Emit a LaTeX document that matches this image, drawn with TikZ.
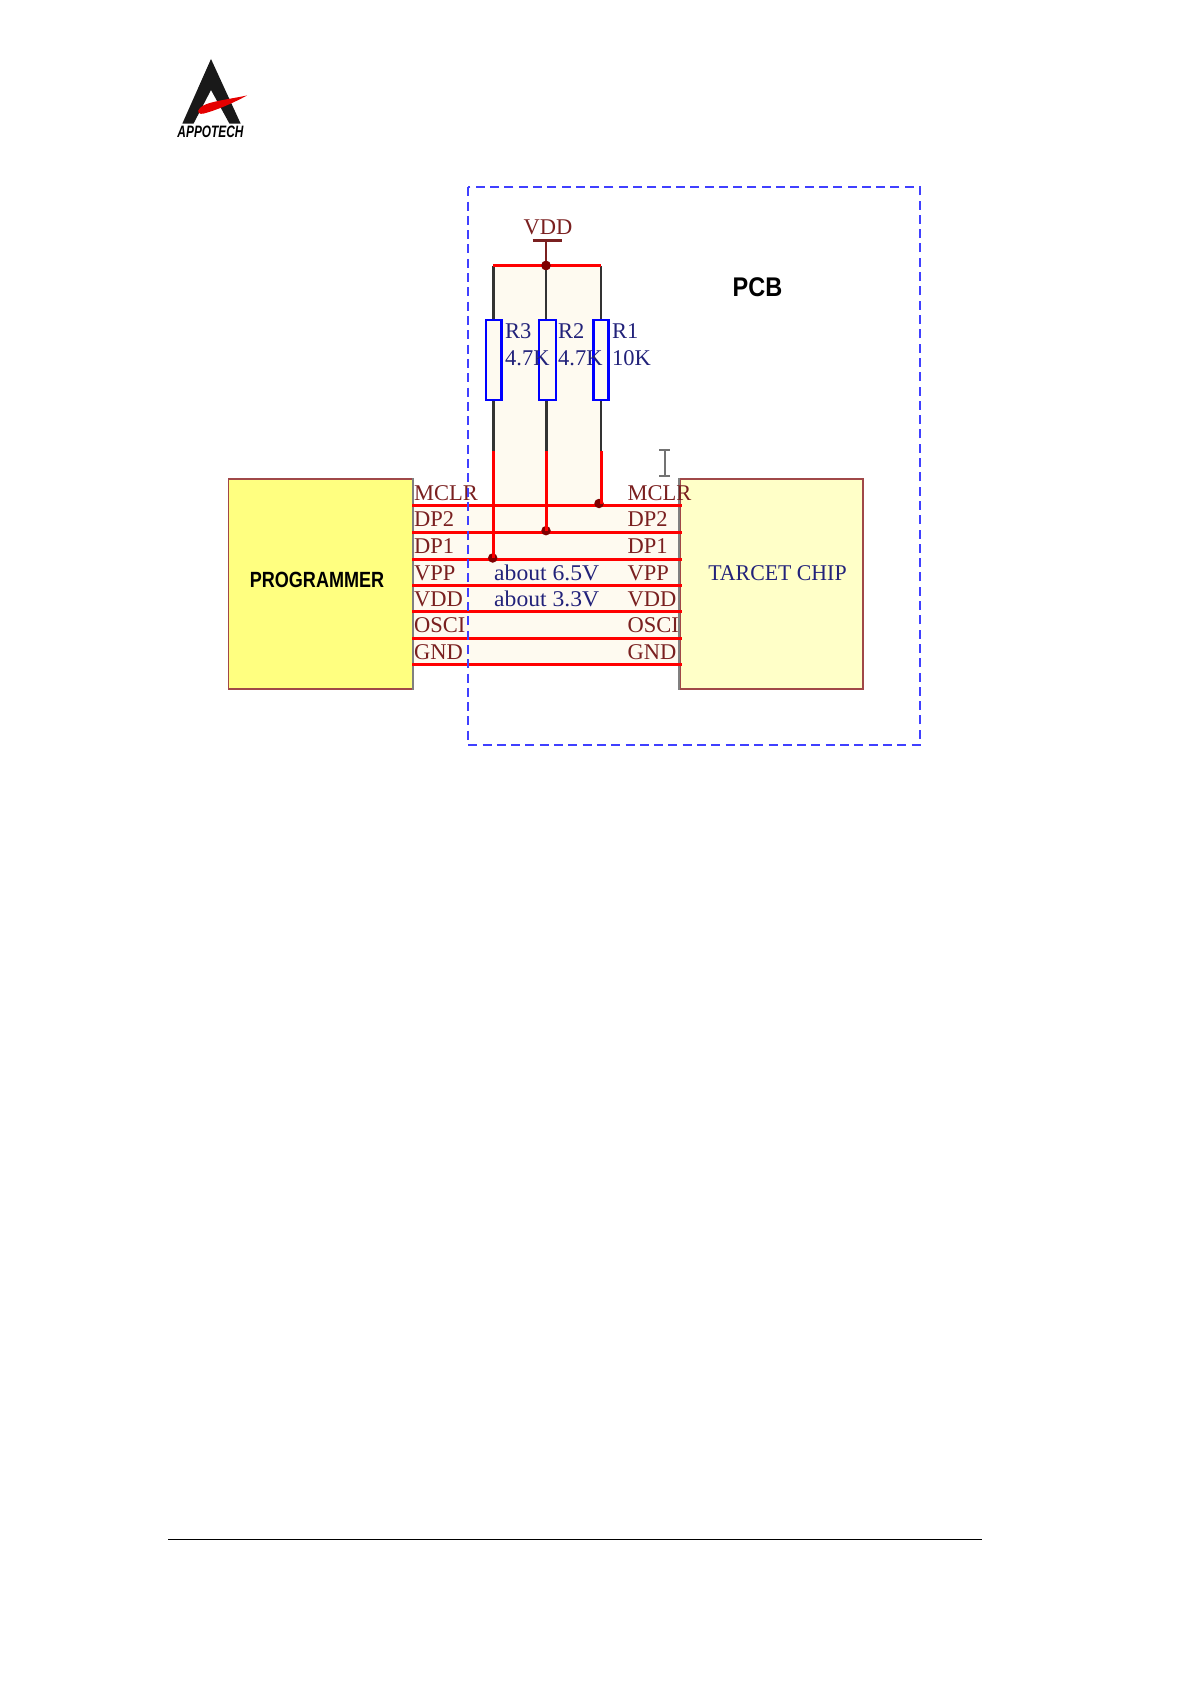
\documentclass[tikz,border=0pt]{standalone}
\usepackage{fontspec}
\setmainfont{Liberation Serif}
\setsansfont{Liberation Sans}
\usepackage{tikz}
\definecolor{pinred}{HTML}{7A2020}
\definecolor{edgered}{HTML}{A04848}
\definecolor{textblue}{HTML}{22227A}
\definecolor{boardfill}{HTML}{FEFAF0}
\definecolor{progfill}{HTML}{FFFF80}
\definecolor{chipfill}{HTML}{FFFFC8}
\tikzset{
    pin/.style={anchor=base west, inner sep=0pt, text=pinred, font=\fontsize{22.5}{24}\selectfont},
    val/.style={anchor=base west, inner sep=0pt, text=textblue, font=\fontsize{22.5}{24}\selectfont},
    wire/.style={draw=red, line width=3pt},
    lead/.style={draw=black!80, line width=2.8pt},
    res/.style={rectangle, draw=blue, line width=2.6pt, fill=boardfill, inner sep=0pt, minimum width=15.5pt, minimum height=80pt},
    joint/.style={circle, fill=red!50!black, inner sep=0pt, minimum size=9.5pt},
    box/.style={rectangle, draw=edgered, line width=1.6pt, inner sep=0pt, minimum height=210pt}
}
\begin{document}
\begin{tikzpicture}[x=1pt, y=-1pt]
        \useasboundingbox (0, 0) rectangle (1191, 1685);

        % Logo
        \fill[black!90] (211, 59) -- (240.7, 123.7) -- (229.5, 123.7) -- (211, 90) -- (193.5, 123.7) -- (182.3, 123.7) -- cycle;
        \fill[red!90!black] (247, 95.5) .. controls (225, 100) and (205, 102) .. (200, 108) .. controls (196, 112) and (199, 115) .. (204, 113.5) .. controls (220, 109) and (235, 102) .. (247, 95.5) -- cycle;
        \node[anchor=base, inner sep=0pt, xscale=0.72, font=\fontsize{16.5}{17}\selectfont\sffamily\bfseries\itshape] (logotext) at (210.5, 137.3) {APPOTECH};

        % Shaded part of the board
        \fill[boardfill] (493, 266) rectangle (601, 505);
        \fill[boardfill] (412, 505) rectangle (681, 664);

        % Programmer and target
        \node[box, fill=progfill, minimum width=184pt] (prog) at (320.3, 584) {};
        \node[box, fill=chipfill, minimum width=183pt] (chip) at (771.5, 584) {};
        \draw[black!50, line width=1.6pt] (prog.north east) -- (prog.south east);
        \draw[black!50, line width=1.6pt] (chip.north west) -- (chip.south west);
        \node[anchor=base, inner sep=0pt, xscale=0.82, font=\fontsize{22}{24}\selectfont\sffamily\bfseries] (progtext) at (317, 587) {PROGRAMMER};
        \node[anchor=base, inner sep=0pt, xscale=0.97, text=textblue, font=\fontsize{22.5}{24}\selectfont] (chiptext) at (777.5, 580) {TARCET CHIP};

        % Supply
        \node[anchor=base, inner sep=0pt, text=pinred, font=\fontsize{22.5}{24}\selectfont] (vddtext) at (548, 235) {VDD};
        \coordinate (vddbarl) at (532.7, 240.7);
        \coordinate (vddbarr) at (561.7, 240.7);
        \coordinate (vddstem) at (546, 240.7);
        \coordinate (topl) at (493.3, 266);
        \coordinate (topr) at (601, 266);
        \node[joint] (topj) at (546, 265.5) {};
        \draw[draw=pinred, line width=2.4pt] (vddbarl) -- (vddbarr);
        \draw[draw=pinred, line width=2.4pt] (vddstem) -- (topj);

        % Resistors
        \node[res] (r3) at (493.7, 360) {};
        \node[res, minimum width=17pt] (r2) at (547.3, 360) {};
        \node[res] (r1) at (601, 360) {};
        \coordinate (r3low) at (493.3, 451);
        \coordinate (r2low) at (546.3, 451);
        \coordinate (r1low) at (601, 451);
        \draw[lead] (topl) -- (topl |- r3.north);
        \draw[lead] (topj) -- (topj |- r2.north);
        \draw[lead] (topr) -- (topr |- r1.north);
        \draw[lead] (r3low |- r3.south) -- (r3low);
        \draw[lead] (r2low |- r2.south) -- (r2low);
        \draw[lead] (r1low |- r1.south) -- (r1low);
        \node[val] (r3name) at (505, 338) {R3};
        \node[val] (r3val) at (505, 365) {4.7K};
        \node[val] (r2name) at (558, 338) {R2};
        \node[val] (r2val) at (558, 365) {4.7K};
        \node[val] (r1name) at (612, 338) {R1};
        \node[val] (r1val) at (612, 365) {10K};

        % Bus between programmer and target
        \coordinate (l1) at (412, 505);
        \coordinate (r1b) at (682, 505);
        \coordinate (l2) at (412, 532);
        \coordinate (r2b) at (682, 532);
        \coordinate (l3) at (412, 559);
        \coordinate (r3b) at (682, 559);
        \coordinate (l4) at (412, 585);
        \coordinate (r4b) at (682, 585);
        \coordinate (l5) at (412, 611.7);
        \coordinate (r5b) at (682, 611.7);
        \coordinate (l6) at (412, 638.7);
        \coordinate (r6b) at (682, 638.7);
        \coordinate (l7) at (412, 664.3);
        \coordinate (r7b) at (682, 664.3);
        \draw[wire] (l1) -- (r1b);
        \draw[wire] (l2) -- (r2b);
        \draw[wire] (l3) -- (r3b);
        \draw[wire] (l4) -- (r4b);
        \draw[wire] (l5) -- (r5b);
        \draw[wire] (l6) -- (r6b);
        \draw[wire] (l7) -- (r7b);

        % Pull-ups onto the bus
        \draw[wire] (topl) -- (topr);
        \node[joint] (topj2) at (546, 265.5) {};
        \node[joint] (j3) at (492.7, 558) {};
        \node[joint] (j2) at (546, 530.7) {};
        \node[joint] (j1) at (599, 503.5) {};
        \draw[wire] (r3low) -- (r3low |- j3);
        \draw[wire] (r2low) -- (r2low |- j2);
        \draw[wire] (r1low) -- (r1low |- j1);

        % Pin names
        \node[pin] (pl1) at (414, 500.7) {MCLR};
        \node[pin] (pl2) at (414, 526.7) {DP2};
        \node[pin] (pl3) at (414, 553) {DP1};
        \node[pin] (pl4) at (414, 580) {VPP};
        \node[pin] (pl5) at (414, 606) {VDD};
        \node[pin] (pl6) at (414, 632.7) {OSCI};
        \node[pin] (pl7) at (414, 659.3) {GND};
        \node[pin] (pr1) at (627.3, 500.7) {MCLR};
        \node[pin] (pr2) at (627.3, 526.7) {DP2};
        \node[pin] (pr3) at (627.3, 553) {DP1};
        \node[pin] (pr4) at (627.3, 580) {VPP};
        \node[pin] (pr5) at (627.3, 606) {VDD};
        \node[pin] (pr6) at (627.3, 632.7) {OSCI};
        \node[pin] (pr7) at (627.3, 659.3) {GND};
        \node[val, xscale=1.05] (vpptext) at (494, 580) {about 6.5V};
        \node[val, xscale=1.05] (vddval) at (494, 606) {about 3.3V};

        % Board outline
        \draw[blue!75!white, line width=2pt, dash pattern=on 9pt off 5.3pt] (467.7, 187.3) rectangle (920, 744.5);
        \node[anchor=base, inner sep=0pt, xscale=0.87, font=\fontsize{27}{28}\selectfont\sffamily\bfseries] (pcbtext) at (757.5, 297) {PCB};

        % Text cursor
        \draw[black!55, line width=1.2pt] (659, 450) -- (670, 450);
        \draw[black!55, line width=1.2pt] (659, 476) -- (670, 476);
        \draw[black!55, line width=1.6pt] (664.7, 450) -- (664.7, 476);

        % Page rule
        \draw[black, line width=1.3pt] (168, 1539.3) -- (981.7, 1539.3);
        \end{tikzpicture}
\end{document}
